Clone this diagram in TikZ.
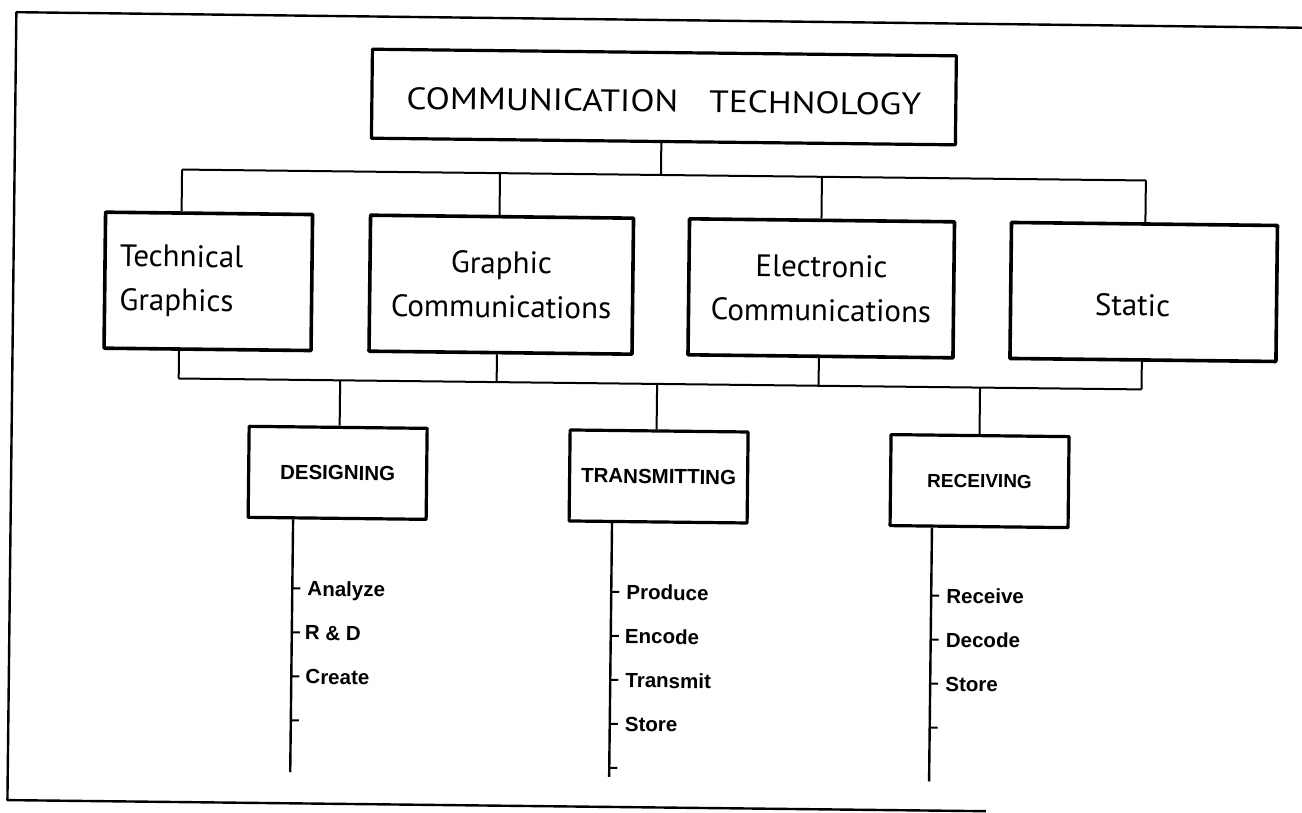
\documentclass[tikz,border=0pt]{standalone}
\usepackage{fontspec}
\setmainfont{PT Sans}
\newfontfamily\helv{Liberation Sans}
\newcommand{\wide}[1]{\scalebox{1.14}[1]{#1}}
\begin{document}
\begin{tikzpicture}[x=1pt,y=-1pt,line join=round,
  frame/.style={line width=2.4pt},
  conn/.style={line width=2pt},
  headbox/.style={draw,line width=3.2pt,inner sep=0pt,
    font=\fontsize{31}{44}\selectfont,align=center},
  areabox/.style={draw,line width=3.6pt,inner sep=0pt,minimum height=136pt,
    font=\fontsize{31}{44}\selectfont,align=center},
  procbox/.style={draw,line width=3.2pt,inner sep=0pt,minimum width=178pt,
    minimum height=91pt,font=\helv\bfseries\fontsize{20.5}{24}\selectfont},
  item/.style={anchor=west,inner sep=0pt,text height=14.8pt,text depth=0pt,
    font=\helv\bfseries\fontsize{20.5}{24}\selectfont},
  tick/.style={line width=2pt}]
\useasboundingbox (0,0) rectangle (1302,813);
\clip (0,0) rectangle (1302,813);
\begin{scope}[rotate=-0.65,transform shape]
  % page frame
  \draw[frame] (1330,13) -- (16.5,12) -- (16.5,800) -- (995,800);

  % top level
  \node[headbox,minimum width=584pt,minimum height=89pt,text height=30pt,text depth=0pt]
    (top) at (665,89.5) {\wide{COMMUNICATION}\hspace{31pt}\wide{TECHNOLOGY}};

  % areas
  \node[areabox,minimum width=207pt,text width=177pt,align=left] (tech) at (211.5,279)
    {Technical\\Graphics};
  \node[areabox,minimum width=263pt] (graph) at (504.5,279) {Graphic\\Communications};
  \node[areabox,minimum width=265pt] (elec) at (824.5,279) {Electronic\\Communications};
  \node[areabox,minimum width=266pt,text height=50pt,text depth=2pt] (stat) at (1147,279)
    {Static\hspace{22pt}};

  % processes
  \node[procbox] (des) at (343,469) {DESIGNING};
  \node[procbox] (tra) at (664,469) {TRANSMITTING};
  \node[procbox,font=\helv\bfseries\fontsize{19}{24}\selectfont] (rec) at (985,470) {RECEIVING};

  % upper bus
  \coordinate (tj) at (663,167.5);
  \coordinate (tL) at (184,167.5);
  \coordinate (tG) at (502,167.5);
  \coordinate (tE) at (824,167.5);
  \coordinate (tR) at (1148,167.5);
  \draw[conn] (top.south -| tj) -- (tj);
  \draw[conn] (tL) -- (tR);
  \draw[conn] (tL) -- (tech.north -| tL);
  \draw[conn] (tG) -- (graph.north -| tG);
  \draw[conn] (tE) -- (elec.north -| tE);
  \draw[conn] (tR) -- (stat.north -| tR);

  % lower bus
  \coordinate (bL) at (183,376.5);
  \coordinate (bG) at (501,376.5);
  \coordinate (bE) at (823,376.5);
  \coordinate (bR) at (1146,376.5);
  \coordinate (bD) at (344.5,376.5);
  \coordinate (bT) at (661.5,376.5);
  \coordinate (bC) at (984.5,376.5);
  \draw[conn] (bL) -- (bR);
  \draw[conn] (tech.south -| bL) -- (bL);
  \draw[conn] (graph.south -| bG) -- (bG);
  \draw[conn] (elec.south -| bE) -- (bE);
  \draw[conn] (stat.south -| bR) -- (bR);
  \draw[conn] (bD) -- (des.north -| bD);
  \draw[conn] (bT) -- (tra.north -| bT);
  \draw[conn] (bC) -- (rec.north -| bC);

  % stems
  \coordinate (dEnd) at (299,769);
  \coordinate (tEnd) at (618,770);
  \coordinate (rEnd) at (938,771);
  \draw[conn,line width=2.4pt] (des.south -| dEnd) -- (dEnd);
  \draw[conn,line width=2.4pt] (tra.south -| tEnd) -- (tEnd);
  \draw[conn,line width=2.4pt] (rec.south -| rEnd) -- (rEnd);

  % designing steps
  \node[item] (d1) at (314,585) {Analyze};
  \node[item] (d2) at (312,629) {R \& D};
  \node[item] (d3) at (313,673) {Create};
  \coordinate (d4) at (299,717);
  \foreach \n in {d1,d2,d3} \draw[tick] (\n.west -| dEnd) -- ++(8,0);
  \draw[tick] (d4) -- ++(8,0);

  % transmitting steps
  \node[item] (t1) at (633,585) {Produce};
  \node[item] (t2) at (632,629) {Encode};
  \node[item] (t3) at (633,673) {Transmit};
  \node[item] (t4) at (633,717) {Store};
  \coordinate (t5) at (618,761);
  \foreach \n in {t1,t2,t3,t4} \draw[tick] (\n.west -| tEnd) -- ++(8,0);
  \draw[tick] (t5) -- ++(8,0);

  % receiving steps
  \node[item] (r1) at (953,585) {Receive};
  \node[item] (r2) at (953,629) {Decode};
  \node[item] (r3) at (953,673) {Store};
  \coordinate (r4) at (938,717);
  \foreach \n in {r1,r2,r3} \draw[tick] (\n.west -| rEnd) -- ++(8,0);
  \draw[tick] (r4) -- ++(8,0);
\end{scope}
\end{tikzpicture}
\end{document}
